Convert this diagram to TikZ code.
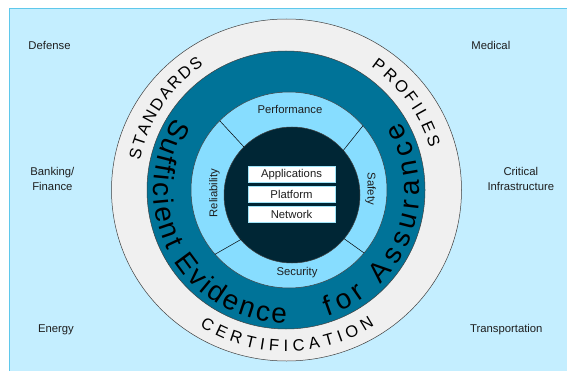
\documentclass[tikz,border=0pt]{standalone}
\usepackage{fontspec}
\setmainfont{Liberation Sans}
\usetikzlibrary{decorations.text,shapes.geometric}
\definecolor{bgblue}{RGB}{196,238,255}
\definecolor{bgedge}{RGB}{95,200,235}
\definecolor{ringgray}{RGB}{240,240,240}
\definecolor{evteal}{RGB}{0,115,152}
\definecolor{attrblue}{RGB}{135,221,255}
\definecolor{coredark}{RGB}{0,38,53}
\definecolor{boxedge}{RGB}{160,228,248}
\definecolor{txt}{RGB}{30,30,30}
\newcommand\arcbigfont{\fontsize{28}{28}\selectfont}
\newcommand\arcsmallfont{\fontsize{16.5}{16.5}\selectfont}
\begin{document}
\begin{tikzpicture}[x=1pt,y=1pt,
  ring/.style={draw=black!75, line width=0.5pt, inner sep=0pt, outer sep=0pt},
  lbl/.style={font=\fontsize{11.3}{15}\selectfont, text=txt, align=center, inner sep=0pt},
  layerbox/.style={draw=boxedge, line width=1pt, fill=white, minimum width=87pt,
     minimum height=15.5pt, inner sep=0pt, font=\fontsize{11.3}{13}\selectfont, text=txt},
  divider/.style={draw=black, line width=0.5pt},
  arctext/.style={decorate, decoration={text along path, text align={fit to path}, text={#1}}}
]
\useasboundingbox (0,0) rectangle (567,370);
\fill[white] (0,0) rectangle (567,370);
\begin{scope}
  \clip (0,0) rectangle (567,370);
  \draw[fill=bgblue, draw=bgedge, line width=1pt] (9,-5) rectangle (580,361.5);
\end{scope}

% rings
\node[ring, ellipse, fill=ringgray, minimum width=350pt, minimum height=342pt] (outer) at (286.5,180) {};
\node[ring, circle, fill=evteal, minimum size=278pt] (evid) at (286,180) {};
\node[ring, circle, fill=attrblue, minimum size=196pt] (attr) at (289,180) {};
\node[ring, circle, fill=coredark, minimum size=136pt] (core) at (292,175) {};

% dividers
\draw[divider] (core.135) -- (attr.135);
\draw[divider] (core.41) -- (attr.41);
\draw[divider] (core.221) -- (attr.221);
\draw[divider] (core.320) -- (attr.320);

% attribute labels
\node[lbl] (perf) at (290,261) {Performance};
\node[lbl] (sec) at (297,97) {Security};
\node[lbl, rotate=90] (rel) at (214.5,177) {Reliability};
\node[lbl, rotate=-90] (saf) at (370.5,181) {Safety};

% layer boxes
\node[layerbox] (app) at (291.5,195.5) {Applications};
\node[layerbox] (plat) at (291.5,175.5) {Platform};
\node[layerbox] (net) at (291.5,155.5) {Network};

% curved texts
\begin{scope}[shift={(286.5,180)}]
  \path[arctext={|\arcbigfont|Sufficient Evidence}] (147:133) arc[start angle=147, end angle=270, radius=133];
  \path[arctext={|\arcbigfont|for Assurance}] (288:133) arc[start angle=288, end angle=391, radius=133];
  \path[arctext={|\arcsmallfont|STANDARDS}] (168.5:149.5) arc[start angle=168.5, end angle=123.7, radius=149.5];
  \path[arctext={|\arcsmallfont|PROFILES}] (55.5:149.5) arc[start angle=55.5, end angle=16.5, radius=149.5];
  \path[arctext={|\arcsmallfont|CERTIFICATION}] (237.5:161.5) arc[start angle=237.5, end angle=303, radius=161.5];
\end{scope}

% domain labels
\node[lbl] (def) at (49.5,325) {Defense};
\node[lbl] (med) at (490.8,325) {Medical};
\node[lbl] (bank) at (52.4,191) {Banking/\\Finance};
\node[lbl] (crit) at (520.8,191) {Critical\\Infrastructure};
\node[lbl] (ener) at (56,40) {Energy};
\node[lbl] (trans) at (506.3,40) {Transportation};
\end{tikzpicture}
\end{document}
